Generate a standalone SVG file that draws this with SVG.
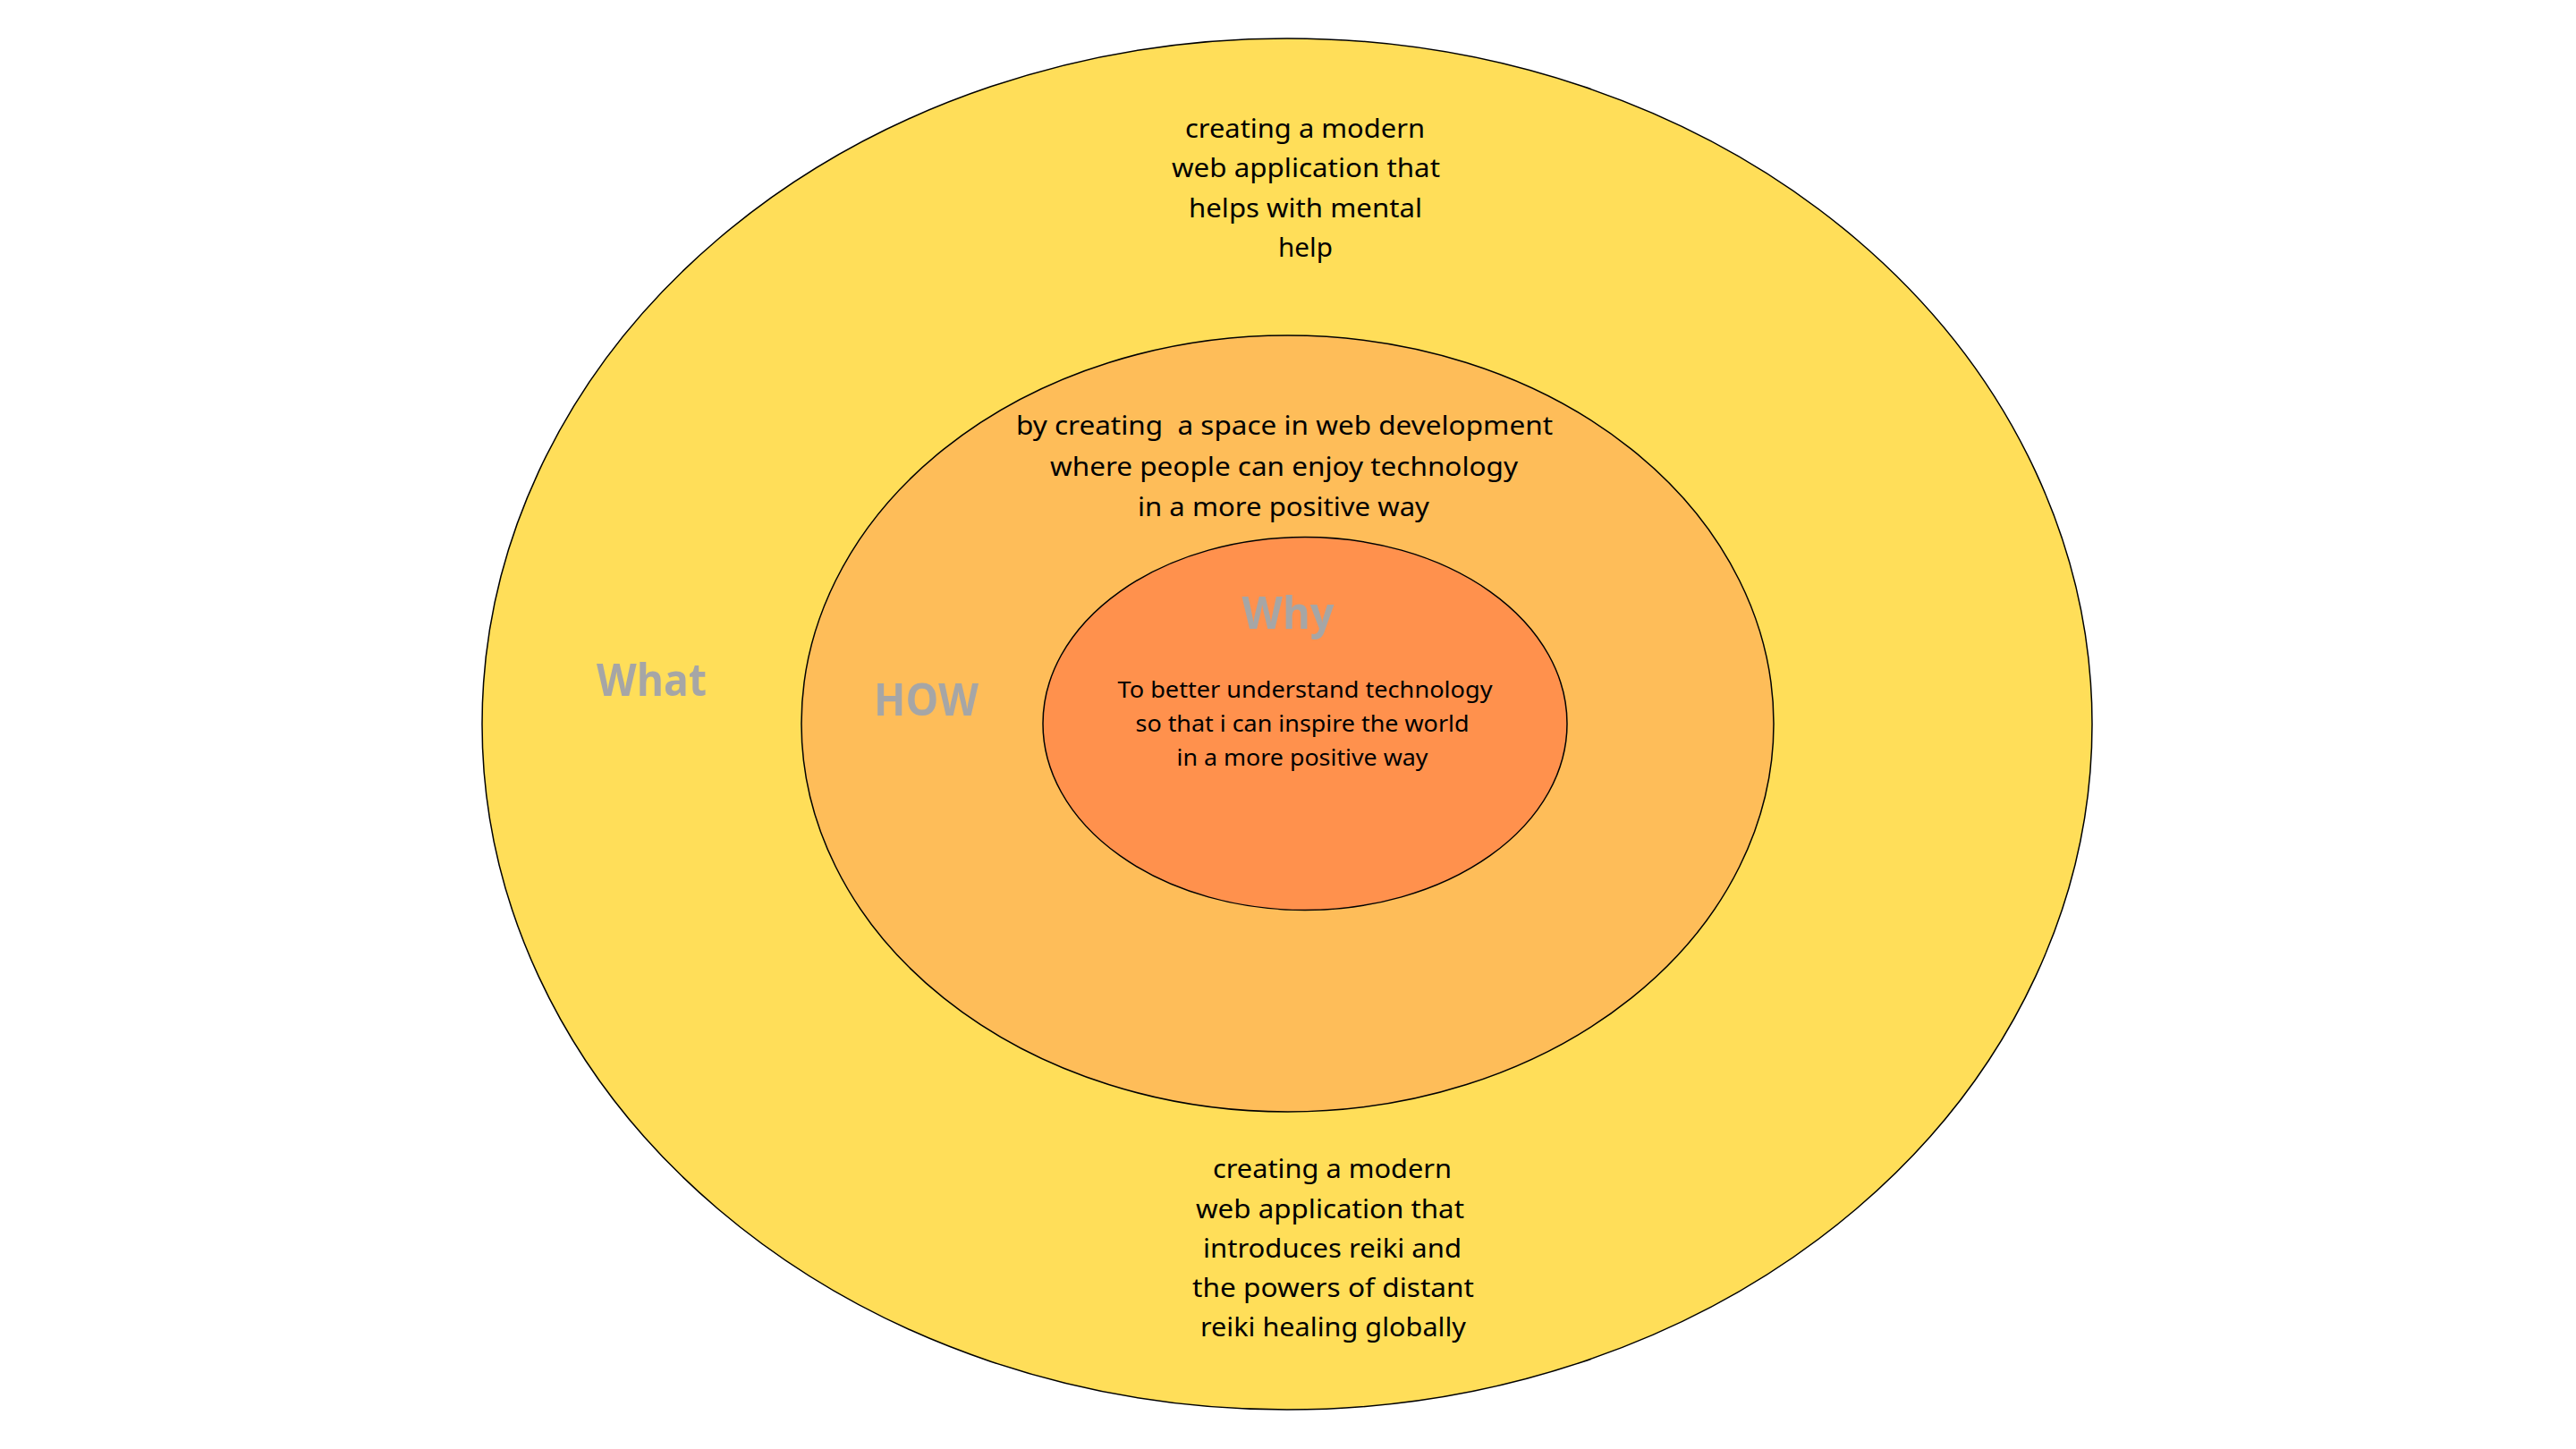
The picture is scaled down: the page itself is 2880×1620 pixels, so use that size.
<svg xmlns="http://www.w3.org/2000/svg" width="2880" height="1620" viewBox="0 0 2880 1620">
<style>
.ring{stroke:#000;stroke-width:1.5}
.body{font-family:"Noto Sans","Open Sans",sans-serif;font-size:29px;fill:#000;text-anchor:middle}
.small{font-family:"Noto Sans","Open Sans",sans-serif;font-size:25px;fill:#000;text-anchor:middle}
.label{font-family:"Open Sans","Noto Sans",sans-serif;font-weight:bold;font-size:50px;fill:#A6A6A6;text-anchor:middle}
</style>
<rect width="2880" height="1620" fill="#FFFFFF"/>
<g id="what">
<ellipse class="ring" cx="1439" cy="809.5" rx="900" ry="766.5" fill="#FFDE59"/>
<text class="label" x="728.5" y="778" textLength="123" lengthAdjust="spacingAndGlyphs">What</text>
<text class="body" x="1459" y="154" textLength="268" lengthAdjust="spacingAndGlyphs">creating a modern</text>
<text class="body" x="1460" y="198" textLength="300" lengthAdjust="spacingAndGlyphs">web application that</text>
<text class="body" x="1459.5" y="243" textLength="261" lengthAdjust="spacingAndGlyphs">helps with mental</text>
<text class="body" x="1459.5" y="287" textLength="61" lengthAdjust="spacingAndGlyphs">help</text>
<text class="body" x="1489.5" y="1317" textLength="267" lengthAdjust="spacingAndGlyphs">creating a modern</text>
<text class="body" x="1487" y="1362" textLength="300" lengthAdjust="spacingAndGlyphs">web application that</text>
<text class="body" x="1489.5" y="1406" textLength="289" lengthAdjust="spacingAndGlyphs">introduces reiki and</text>
<text class="body" x="1490.5" y="1450" textLength="315" lengthAdjust="spacingAndGlyphs">the powers of distant</text>
<text class="body" x="1490.5" y="1494" textLength="297" lengthAdjust="spacingAndGlyphs">reiki healing globally</text>
</g>
<g id="how">
<ellipse class="ring" cx="1439.5" cy="809" rx="543.5" ry="434" fill="#FEBD59"/>
<text class="label" x="1035.5" y="800" textLength="117" lengthAdjust="spacingAndGlyphs">HOW</text>
<text class="body" x="1436" y="486" textLength="600" lengthAdjust="spacingAndGlyphs">by creating&#160; a space in web development</text>
<text class="body" x="1435.5" y="532" textLength="523" lengthAdjust="spacingAndGlyphs">where people can enjoy technology</text>
<text class="body" x="1435" y="577" textLength="326" lengthAdjust="spacingAndGlyphs">in a more positive way</text>
</g>
<g id="why">
<ellipse class="ring" cx="1459" cy="809" rx="293" ry="208.5" fill="#FF914D"/>
<text class="label" x="1440" y="703" textLength="103" lengthAdjust="spacingAndGlyphs">Why</text>
<text class="small" x="1459" y="780" textLength="419" lengthAdjust="spacingAndGlyphs">To better understand technology</text>
<text class="small" x="1456" y="818" textLength="373" lengthAdjust="spacingAndGlyphs">so that i can inspire the world</text>
<text class="small" x="1456" y="856" textLength="281" lengthAdjust="spacingAndGlyphs">in a more positive way</text>
</g>
<g id="connectors"/>
</svg>
